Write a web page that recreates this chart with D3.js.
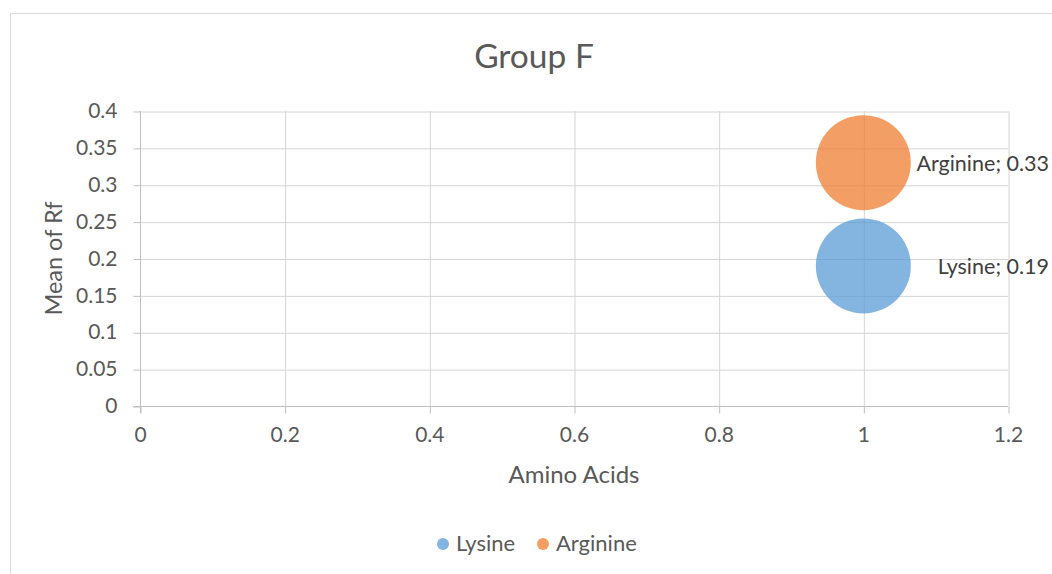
<!DOCTYPE html>
<html>
<head>
<meta charset="utf-8">
<script src="https://cdn.jsdelivr.net/npm/d3@7"></script>
<style>
  body { margin: 0; background: #fff; }
  svg text { font-family: Lato, "Open Sans", sans-serif; fill: #595959; }
</style>
</head>
<body>
<svg id="chart" width="1052" height="574"></svg>
<script>
// data
const seriesNames = ["Lysine", "Arginine"];
const seriesColors = ["#5B9BD5", "#ED7D31"];
const xValues = [1, 1];
const rfValues = [0.19, 0.33];
const bubbleSizes = [1, 1];

const xTickValues = [0, 0.2, 0.4, 0.6, 0.8, 1, 1.2];
const xTickLabels = ["0", "0.2", "0.4", "0.6", "0.8", "1", "1.2"];
const yTickValues = [0, 0.05, 0.1, 0.15, 0.2, 0.25, 0.3, 0.35, 0.4];
const yTickLabels = ["0", "0.05", "0.1", "0.15", "0.2", "0.25", "0.3", "0.35", "0.4"];

// layout
const plot = { left: 140, right: 1008, top: 111, bottom: 406 };

const svg = d3.select("#chart");

// chart area border
svg.append("rect")
    .attr("x", 10.5).attr("y", 13.5)
    .attr("width", 1100).attr("height", 700)
    .style("fill", "#fff")
    .style("stroke", "#D9D9D9")
    .style("stroke-width", 1);

const x = d3.scaleLinear().domain([0, 1.2]).range([plot.left, plot.right]);
const y = d3.scaleLinear().domain([0, 0.4]).range([plot.bottom, plot.top]);
const r = d3.scaleSqrt().domain([0, d3.max(bubbleSizes)]).range([0, 47.5]);

// gridlines
svg.append("g")
    .attr("transform", `translate(0,${plot.bottom})`)
    .call(d3.axisBottom(x).tickValues(xTickValues.slice(1)).tickSize(-(plot.bottom - plot.top)).tickFormat(""))
    .call(g => g.select(".domain").remove())
    .call(g => g.selectAll("line").style("stroke", "#D4D4D4").attr("transform", "translate(0.5,0)"));

svg.append("g")
    .attr("transform", `translate(${plot.left},0)`)
    .call(d3.axisLeft(y).tickValues(yTickValues.slice(1)).tickSize(-(plot.right - plot.left)).tickFormat(""))
    .call(g => g.select(".domain").remove())
    .call(g => g.selectAll("line").style("stroke", "#D4D4D4").attr("transform", "translate(0,0.5)"));

// x axis
svg.append("g")
    .attr("transform", `translate(0,${plot.bottom + 0.5})`)
    .call(d3.axisBottom(x).tickValues(xTickValues).tickSizeInner(7).tickSizeOuter(0)
        .tickPadding(14).tickFormat((d, i) => xTickLabels[i]))
    .call(g => g.select(".domain").attr("d", `M${plot.left - 7},0H${plot.right}`).style("stroke", "#BFBFBF"))
    .call(g => g.selectAll(".tick line").style("stroke", "#BFBFBF").attr("transform", "translate(0.5,0)"))
    .call(g => g.selectAll(".tick text").style("font-size", "21px").style("fill", "#595959"));

// y axis
svg.append("g")
    .attr("transform", `translate(${plot.left + 0.5},0)`)
    .call(d3.axisLeft(y).tickValues(yTickValues).tickSizeInner(7).tickSizeOuter(0)
        .tickPadding(16).tickFormat((d, i) => yTickLabels[i]))
    .call(g => g.select(".domain").attr("d", `M0,${plot.top}V${plot.bottom + 7}`).style("stroke", "#BFBFBF"))
    .call(g => g.selectAll(".tick line").style("stroke", "#BFBFBF").attr("transform", "translate(0,0.5)"))
    .call(g => g.selectAll(".tick text").style("font-size", "21px").style("fill", "#595959"));

svg.selectAll(".tick text").attr("font-family", null);

// bubbles
const points = seriesNames.map((name, i) => ({
    name: name, x: xValues[i], rf: rfValues[i], size: bubbleSizes[i], color: seriesColors[i]
}));

svg.append("g").selectAll("circle")
    .data(points)
    .enter()
    .append("circle")
    .attr("cx", d => x(d.x))
    .attr("cy", d => y(d.rf))
    .attr("r", d => r(d.size))
    .style("fill", d => d.color)
    .style("fill-opacity", 0.75);

// data labels
svg.append("g").selectAll("text")
    .data(points)
    .enter()
    .append("text")
    .attr("x", 1049)
    .attr("y", d => y(d.rf) + 8)
    .attr("text-anchor", "end")
    .style("font-size", "21.5px")
    .style("fill", "#404040")
    .text(d => `${d.name}; ${d.rf}`);

// titles
svg.append("text")
    .attr("x", 534).attr("y", 68)
    .attr("text-anchor", "middle")
    .style("font-size", "33.5px")
    .text("Group F");

svg.append("text")
    .attr("x", (plot.left + plot.right) / 2).attr("y", 483)
    .attr("text-anchor", "middle")
    .style("font-size", "24px")
    .text("Amino Acids");

svg.append("text")
    .attr("transform", `translate(62,${(plot.top + plot.bottom) / 2}) rotate(-90)`)
    .attr("text-anchor", "middle")
    .style("font-size", "23.5px")
    .text("Mean of Rf");

// legend
const legend = svg.append("g").selectAll("g")
    .data(points)
    .enter()
    .append("g")
    .attr("transform", (d, i) => `translate(${[443, 543][i]},544)`);

legend.append("circle")
    .attr("r", 6)
    .style("fill", d => d.color)
    .style("fill-opacity", 0.75);

legend.append("text")
    .attr("x", 13).attr("y", 7)
    .style("font-size", "22px")
    .text(d => d.name);
</script>
</body>
</html>
